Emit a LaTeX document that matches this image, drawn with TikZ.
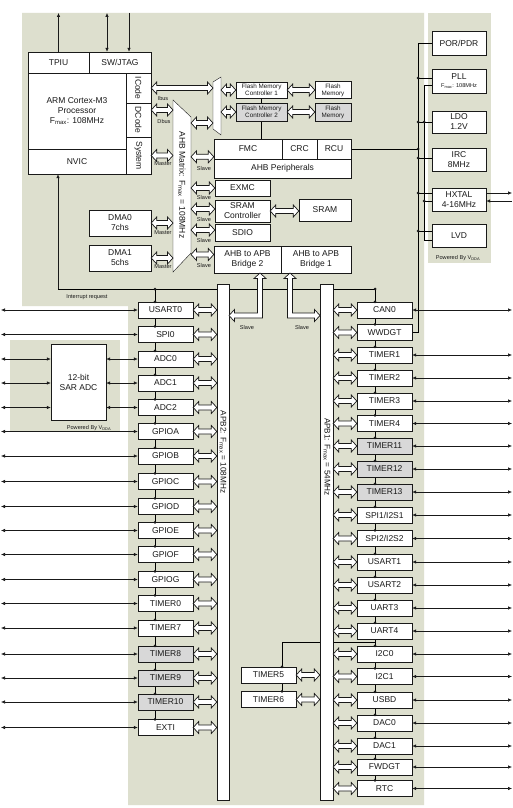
\documentclass[tikz,border=0pt]{standalone}
\usepackage{fontspec}
\setmainfont{Liberation Sans}
\usetikzlibrary{arrows.meta,calc}
\definecolor{beige}{RGB}{221,223,206}
\definecolor{gfill}{RGB}{216,216,216}
\definecolor{ink}{RGB}{25,25,25}
\newcommand\tnyf{\fontsize{5.6}{6}\selectfont}
\pgfdeclarelayer{back}
\pgfdeclarelayer{mid}
\pgfsetlayers{back,mid,main}
\begin{document}
\begin{tikzpicture}[x=1pt,y=-1pt, line width=0.8pt, color=ink,
  lbl/.style={font=\fontsize{8.5}{10}\selectfont},
  sml/.style={font=\fontsize{6.3}{7}\selectfont},
  tny/.style={font=\tnyf},
  pbox/.style={draw, fill=white, inner sep=0pt, minimum width=55pt, minimum height=16pt, lbl, align=center},
  cbox/.style={draw, fill=white, inner sep=0pt, lbl, align=center},
  ext/.style={line width=0.6pt,{Latex[length=4pt,width=3.5pt]}-{Latex[length=4pt,width=3.5pt]}},
  sarr/.style={line width=0.6pt,-{Latex[length=4pt,width=3.5pt]}},
  harrow/.style={draw, fill=white, line width=0.7pt,
    to path={let \p1=(\tikztostart), \p2=(\tikztotarget),
      \n1={ifthenelse(\x2>\x1,1,-1)}, \n2={ifthenelse(\x2>\x1,-1,1)} in
      (\x1,\y1)
      -- ({\x1+(\n1)*5.5pt},{\y1+6pt})
      -- ({\x1+(\n1)*5.5pt},{\y1+2.5pt})
      -- ({\x2+(\n2)*5.5pt},{\y1+2.5pt})
      -- ({\x2+(\n2)*5.5pt},{\y1+6pt})
      -- (\x2,\y1)
      -- ({\x2+(\n2)*5.5pt},{\y1-6pt})
      -- ({\x2+(\n2)*5.5pt},{\y1-2.5pt})
      -- ({\x1+(\n1)*5.5pt},{\y1-2.5pt})
      -- ({\x1+(\n1)*5.5pt},{\y1-6pt})
      -- cycle}}
]
\useasboundingbox (0,0) rectangle (513,808);
\begin{pgfonlayer}{back}
\fill[white] (0,0) rectangle (513,808);
\fill[beige] (22,13) -- (424,13) -- (424,805) -- (128,805) -- (128,306) -- (22,306) -- cycle;
\fill[beige] (428,13) rectangle (491,263);
\fill[beige] (10,340) rectangle (120,432);
\end{pgfonlayer}

% ---------- CPU ----------
\node[cbox, minimum width=61pt, minimum height=21pt] (tpiu) at (58.5,62.5) {TPIU};
\node[cbox, minimum width=62pt, minimum height=21pt] (swj) at (120,62.5) {SW/JTAG};
\node[cbox, minimum width=98pt, minimum height=76pt] (proc) at (77,111) {ARM Cortex-M3\\Processor\\F\textsubscript{max}: 108MHz};
\node[cbox, minimum width=98pt, minimum height=25pt] (nvic) at (77,161.5) {NVIC};
\node[cbox, minimum width=25pt, minimum height=30pt] (icode) at (138.5,88) {};
\node[cbox, minimum width=25pt, minimum height=34pt] (dcode) at (138.5,120) {};
\node[cbox, minimum width=25pt, minimum height=37pt] (sysb) at (138.5,155.5) {};
\node[lbl, rotate=-90] at (icode) {ICode};
\node[lbl, rotate=-90] at (dcode) {DCode};
\node[lbl, rotate=-90] at (sysb) {System};

% ---------- AHB matrix and mux ----------
\draw[fill=white] (173,100) -- (191,117) -- (191,253) -- (173,272) -- cycle;
\node[lbl, rotate=-90] at (182,185) {AHB Matrix: F\textsubscript{max} = 108MHz};
\coordinate (mtxW) at (173,185);
\coordinate (mtxE) at (191,185);
\draw[fill=white] (213,82) -- (221,77) -- (221,135) -- (213,129) -- cycle;
\coordinate (muxW) at (213,100);
\coordinate (muxE) at (221,100);

% ---------- Flash ----------
\node[cbox, sml, minimum width=51pt, minimum height=16pt] (fmc1) at (261.5,90) {Flash Memory\\Controller 1};
\node[cbox, sml, fill=gfill, minimum width=51pt, minimum height=18pt] (fmc2) at (261.5,112) {Flash Memory\\Controller 2};
\node[cbox, sml, minimum width=36pt, minimum height=17pt] (fl1) at (333,90) {Flash\\Memory};
\node[cbox, sml, fill=gfill, minimum width=36pt, minimum height=18pt] (fl2) at (333,112) {Flash\\Memory};

% ---------- AHB peripherals ----------
\node[cbox, minimum width=68pt, minimum height=20pt] (fmcb) at (248,149) {FMC};
\node[cbox, minimum width=35pt, minimum height=20pt] (crc) at (299.5,149) {CRC};
\node[cbox, minimum width=34pt, minimum height=20pt] (rcu) at (334,149) {RCU};
\node[cbox, minimum width=137pt, minimum height=19pt] (ahbp) at (282.5,168.5) {AHB Peripherals};
\node[cbox, minimum width=55pt, minimum height=16pt] (exmc) at (242.5,188) {EXMC};
\node[cbox, minimum width=55pt, minimum height=22pt] (sramc) at (242.5,211) {SRAM\\Controller};
\node[cbox, minimum width=55pt, minimum height=17pt] (sdio) at (242.5,232.5) {SDIO};
\node[cbox, minimum width=52pt, minimum height=22pt] (sram) at (325,210) {SRAM};
\node[cbox, minimum width=67pt, minimum height=27pt] (br2) at (247.5,259.5) {AHB to APB\\Bridge 2};
\node[cbox, minimum width=70pt, minimum height=27pt] (br1) at (316,259.5) {AHB to APB\\Bridge 1};
\node[cbox, minimum width=62pt, minimum height=26pt] (dma0) at (120,223) {DMA0\\7chs};
\node[cbox, minimum width=62pt, minimum height=26pt] (dma1) at (120,258) {DMA1\\5chs};

% ---------- clock / power column ----------
\node[cbox, minimum width=54pt, minimum height=24pt] (por) at (459,43) {POR/PDR};
\node[cbox, minimum width=54pt, minimum height=24pt] (pll) at (459,81) {PLL\\[-2pt]{\tnyf F\textsubscript{max}: 108MHz}};
\node[cbox, minimum width=54pt, minimum height=22pt] (ldo) at (459,122) {LDO\\1.2V};
\node[cbox, minimum width=54pt, minimum height=23pt] (irc) at (459,159.5) {IRC\\8MHz};
\node[cbox, minimum width=54pt, minimum height=23pt] (hxtal) at (459,199.5) {HXTAL\\4-16MHz};
\node[cbox, minimum width=54pt, minimum height=23pt] (lvd) at (459,235.5) {LVD};
\node[tny] at (458,258) {Powered By V\textsubscript{DDA}};

% ---------- ADC ----------
\node[cbox, minimum width=55pt, minimum height=76pt] (sar) at (78.5,382) {12-bit\\SAR ADC};
\node[tny] at (89,428) {Powered By V\textsubscript{DDA}};

% ---------- APB buses ----------
\node[draw, fill=white, minimum width=12pt, minimum height=516pt, inner sep=0pt] (apb2) at (223,542) {};
\node[draw, fill=white, minimum width=13pt, minimum height=516pt, inner sep=0pt] (apb1) at (326.5,542) {};
\node[font=\fontsize{8.2}{9}\selectfont, rotate=-90] at (223,452) {APB2: F\textsubscript{max} = 108MHz};
\node[font=\fontsize{8.2}{9}\selectfont, rotate=-90] at (327,457) {APB1: F\textsubscript{max} = 54MHz};

% ---------- APB2 peripherals ----------
\foreach \nm/\lab/\f/\yy in {usart0/USART0/white/310, spi0/SPI0/white/334.5, adc0/ADC0/white/359, adc1/ADC1/white/383, adc2/ADC2/white/407.5, gpioa/GPIOA/white/431.5, gpiob/GPIOB/white/456, gpioc/GPIOC/white/481.5, gpiod/GPIOD/white/506.5, gpioe/GPIOE/white/530.5, gpiof/GPIOF/white/554.5, gpiog/GPIOG/white/579.5, timer0/TIMER0/white/603.5, timer7/TIMER7/white/628, timer8/TIMER8/gfill/654, timer9/TIMER9/gfill/678, timer10/TIMER10/gfill/702, exti/EXTI/white/727.5}
  \node[pbox, fill=\f] (\nm) at (165.5,\yy) {\lab};

% ---------- APB1 peripherals ----------
\foreach \nm/\lab/\f/\yy in {can0/CAN0/white/310, wwdgt/WWDGT/white/332.5, tmr1/TIMER1/white/355, tmr2/TIMER2/white/378, tmr3/TIMER3/white/401, tmr4/TIMER4/white/423.5, tmr11/TIMER11/gfill/446, tmr12/TIMER12/gfill/469, tmr13/TIMER13/gfill/492, spi1/SPI1\slash I2S1/white/515, spi2/SPI2\slash I2S2/white/538.5, usart1/USART1/white/562, usart2/USART2/white/585, uart3/UART3/white/608, uart4/UART4/white/631, i2c0/I2C0/white/654, i2c1/I2C1/white/676.5, usbd/USBD/white/700, dac0/DAC0/white/723, dac1/DAC1/white/746, fwdgt/FWDGT/white/767, rtc/RTC/white/788.5}
  \node[pbox, fill=\f] (\nm) at (384.5,\yy) {\lab};

\node[pbox] (tmr5) at (268.5,675) {TIMER5};
\node[pbox] (tmr6) at (268.5,699.5) {TIMER6};

% ---------- background lines ----------
\coordinate (irqL) at (58,289);
\coordinate (lch) at (155,289);
\coordinate (rch) at (375,289);
\coordinate (t5c) at (282,642);
\coordinate (vb) at (418,0);
\coordinate (v2) at (424,0);
\coordinate (lft) at (1,0);
\coordinate (rgt) at (512,0);
\coordinate (topy) at (0,13);
\coordinate (pA) at ([yshift=3pt]pll.west);
\coordinate (pB) at ([yshift=-4pt]pll.west);
\coordinate (iA) at ([yshift=1.5pt]irc.west);
\coordinate (hA) at ([yshift=6.5pt]hxtal.west);
\coordinate (hB) at ([yshift=-1.5pt]hxtal.west);
\coordinate (lA) at ([yshift=4.5pt]lvd.west);
\coordinate (lB) at ([yshift=-4.5pt]lvd.west);
\begin{pgfonlayer}{mid}
\draw[line width=0.6pt] (irqL) -- (rch);
\draw[line width=0.6pt] (lch) -- (lch |- exti.north);
\draw[line width=0.6pt] (rch) -- (rch |- rtc.north);
\draw[line width=0.6pt] (t5c -| rch) -- (t5c) -- (t5c |- tmr6.north);
\draw[line width=0.6pt] (fmc1.south) -- (fmc2.north);
\draw[line width=0.6pt] (fmc2.south) -- (fmc2.south |- fmcb.north);
\draw[line width=0.6pt] (por.west) -- (por.west -| vb) -- (vb |- wwdgt.east) -- (wwdgt.east);
\draw[line width=0.6pt] (pA -| vb) -- (pA);
\draw[line width=0.6pt] (ldo.west -| vb) -- (ldo.west);
\draw[line width=0.6pt] (iA -| vb) -- (iA);
\draw[line width=0.6pt] (hA -| vb) -- (hA);
\draw[line width=0.6pt] (lA -| vb) -- (lA);
\draw[line width=0.6pt] (rcu.east) -- (rcu.east -| vb);
\draw[line width=0.6pt] (pB) -- (pB -| v2) -- (v2 |- lB) -- (lB);
\draw[line width=0.6pt] (hB -| v2) -- (hB);
\end{pgfonlayer}

% ---------- CPU signal arrows ----------
\coordinate (j1) at ([xshift=-13pt]swj.north);
\coordinate (j2) at ([xshift=9pt]swj.north);
\draw[sarr] (tpiu.north) -- (tpiu.north |- topy);
\draw[ext] (j1 |- topy) -- (j1);
\draw[sarr] (j2 |- topy) -- (j2);
\draw[sarr] (irqL) -- (irqL |- nvic.south);
\node[tny] at (87,297) {Interrupt request};

% ---------- hollow bus arrows ----------
\coordinate (dc) at ([yshift=10pt]dcode.east);
\coordinate (m1) at (191,123);
\coordinate (s0) at ([yshift=2pt]ahbp.north west);
\coordinate (s2) at ([yshift=2pt]sramc.west);
\coordinate (s3) at ([yshift=2.5pt]sdio.west);
\coordinate (s4) at ([yshift=5pt]br2.west);
\draw[harrow] (icode.east) to (icode.east -| muxW);
\draw[harrow] (dc) to (dc -| mtxW);
\draw[harrow] (sysb.east) to (sysb.east -| mtxW);
\draw[harrow] (dma0.east) to (dma0.east -| mtxW);
\draw[harrow] (dma1.east) to (dma1.east -| mtxW);
\draw[harrow] (m1) to (m1 -| muxW);
\draw[harrow] (muxE |- fmc1.west) to (fmc1.west);
\draw[harrow] (muxE |- fmc2.west) to (fmc2.west);
\draw[harrow] (fmc1.east) to (fl1.west);
\draw[harrow] (fmc2.east) to (fl2.west);
\draw[harrow] (s0 -| mtxE) to (s0);
\draw[harrow] (mtxE |- exmc.west) to (exmc.west);
\draw[harrow] (s2 -| mtxE) to (s2);
\draw[harrow] (s3 -| mtxE) to (s3);
\draw[harrow] (s4 -| mtxE) to (s4);
\draw[harrow] (sramc.east) to (sramc.east -| sram.west);

\foreach \nm in {usart0,spi0,adc0,adc1,adc2,gpioa,gpiob,gpioc,gpiod,gpioe,gpiof,gpiog,timer0,timer7,timer8,timer9,timer10,exti}
  \draw[harrow] (\nm.east) to (\nm.east -| apb2.west);
\foreach \nm in {can0,wwdgt,tmr1,tmr2,tmr3,tmr4,tmr11,tmr12,tmr13,spi1,spi2,usart1,usart2,uart3,uart4,i2c0,i2c1,usbd,dac0,dac1,fwdgt,rtc}
  \draw[harrow] (\nm.west -| apb1.east) to (\nm.west);
\draw[harrow] (tmr5.east) to (tmr5.east -| apb1.west);
\draw[harrow] (tmr6.east) to (tmr6.east -| apb1.west);

% bridge arrows (L-shaped)
\draw[fill=white, line width=0.7pt] (260,273) -- (266,278.5) -- (262.5,278.5) -- (262.5,318) -- (234.5,318) -- (234.5,321.5) -- (229,315.5) -- (234.5,309.5) -- (234.5,313) -- (257.5,313) -- (257.5,278.5) -- (254,278.5) -- cycle;
\draw[fill=white, line width=0.7pt] (290,273) -- (296,278.5) -- (292.5,278.5) -- (292.5,313) -- (314.5,313) -- (314.5,309.5) -- (320,315.5) -- (314.5,321.5) -- (314.5,318) -- (287.5,318) -- (287.5,278.5) -- (284,278.5) -- cycle;

% ---------- small labels ----------
\node[tny] at (163,98) {Ibus};
\node[tny] at (164,121) {Dbus};
\node[tny] at (163,164) {Master};
\node[tny] at (163,233) {Master};
\node[tny] at (163,267) {Master};
\foreach \yy in {168,197,219,240,265}
  \node[tny] at (204,\yy) {Slave};
\node[tny] at (247,327) {Slave};
\node[tny] at (302,327) {Slave};

% ---------- external signal lines ----------
\foreach \nm in {usart0,spi0,gpioa,gpiob,gpioc,gpiod,gpioe,gpiof,gpiog,timer0,timer7,timer8,timer9,timer10,exti}
  \draw[ext] (\nm.west -| lft) -- (\nm.west);
\foreach \nm in {adc0,adc1,adc2} {
  \draw[ext] (sar.east |- \nm.west) -- (\nm.west);
  \draw[ext] (\nm.west -| lft) -- (\nm.west -| sar.west);
}
\foreach \nm in {can0,tmr1,tmr2,tmr3,tmr4,tmr11,tmr12,tmr13,spi1,spi2,usart1,usart2,uart3,uart4,i2c0,i2c1,usbd,dac0,dac1,fwdgt,rtc}
  \draw[ext] (\nm.east) -- (\nm.east -| rgt);
\coordinate (hC) at ([yshift=6.5pt]hxtal.east);
\coordinate (hD) at ([yshift=-1.5pt]hxtal.east);
\draw[sarr] (hC) -- (hC -| rgt);
\draw[sarr] (hD -| rgt) -- (hD);

% ---------- junction dots ----------
\fill (lch) circle (1.5pt);
\fill (rch) circle (1.5pt);
\foreach \nm in {usart0,spi0,adc0,adc1,adc2,gpioa,gpiob,gpioc,gpiod,gpioe,gpiof,gpiog,timer0,timer7,timer8,timer9,timer10,exti}
  \fill (lch |- \nm.north) circle (1.5pt);
\foreach \nm in {can0,wwdgt,tmr1,tmr2,tmr3,tmr4,tmr11,tmr12,tmr13,spi1,spi2,usart1,usart2,uart3,uart4,i2c0,i2c1,usbd,dac0,dac1,fwdgt,rtc}
  \fill (rch |- \nm.north) circle (1.5pt);
\fill (t5c |- tmr5.north) circle (1.5pt);
\fill (t5c |- tmr6.north) circle (1.5pt);
\fill (pA -| vb) circle (1.5pt);
\fill (ldo.west -| vb) circle (1.5pt);
\fill (rcu.east -| vb) circle (1.5pt);
\fill (iA -| vb) circle (1.5pt);
\fill (hA -| vb) circle (1.5pt);
\fill (lA -| vb) circle (1.5pt);
\fill (ldo.west -| v2) circle (1.5pt);
\fill (hB -| v2) circle (1.5pt);
\end{tikzpicture}
\end{document}
